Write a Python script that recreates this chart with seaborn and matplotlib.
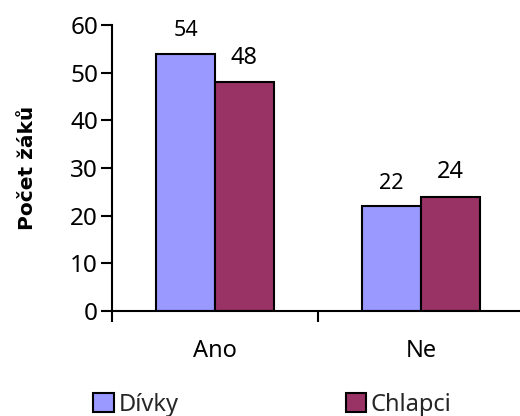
import matplotlib
matplotlib.use("Agg")
import matplotlib.pyplot as plt
import seaborn as sns
import pandas as pd
from matplotlib.patches import Patch

categories = ["Ano", "Ne"]
divky = [54, 22]
chlapci = [48, 24]
series_names = ["Dívky", "Chlapci"]
colors = ["#9999FF", "#993366"]
y_ticks = [0, 10, 20, 30, 40, 50, 60]

df = pd.DataFrame({
    "kategorie": categories * 2,
    "skupina": [series_names[0]] * 2 + [series_names[1]] * 2,
    "pocet": divky + chlapci,
})

sns.set_theme(style="white")
plt.rcParams["font.family"] = ["Noto Sans", "DejaVu Sans"]

fig = plt.figure(figsize=(5.2, 4.16), dpi=100)
ax = fig.add_axes([112 / 520, 105 / 416, 412 / 520, 286 / 416])

sns.barplot(data=df, x="kategorie", y="pocet", hue="skupina",
            palette=colors, width=0.57, edgecolor="black", linewidth=1.5,
            legend=False, ax=ax, saturation=1)

label_sizes = [15.5, 17]
for cont, fs in zip(ax.containers, label_sizes):
    ax.bar_label(cont, labels=[f"{int(v)}" for v in cont.datavalues],
                 padding=9, fontsize=fs, color="black")

ax.set_xlim(-0.5, 1.5)
ax.set_ylim(0, 60)
ax.set_yticks(y_ticks)
ax.set_yticklabels([str(t) for t in y_ticks], fontsize=17.5, color="black")
ax.tick_params(axis="y", direction="out", length=8, width=1.5, color="black", pad=2, left=True)
ax.set_xticks([0, 1])
ax.set_xticklabels(categories, fontsize=17, color="black")
ax.tick_params(axis="x", which="major", length=0, pad=20)
ax.set_xticks([-0.5, 0.5, 1.5], minor=True)
ax.tick_params(axis="x", which="minor", direction="out", length=8, width=1.5, color="black", bottom=True)

ax.set_xlabel("")
ax.set_ylabel("Počet žáků", fontsize=14.5, fontweight="bold", color="black",
              labelpad=24, family="DejaVu Sans")

for side in ["top", "right"]:
    ax.spines[side].set_visible(False)
for side in ["left", "bottom"]:
    ax.spines[side].set_color("black")
    ax.spines[side].set_linewidth(1.5)

handles = [Patch(facecolor=c, edgecolor="black", linewidth=1.5) for c in colors]
fig.legend(handles, series_names, loc="center", bbox_to_anchor=(0.524, 0.027),
           ncol=2, frameon=False, fontsize=17, handlelength=0.85, handleheight=0.85,
           handletextpad=0.2, columnspacing=7.1)

fig.savefig("out.png", dpi=100)
